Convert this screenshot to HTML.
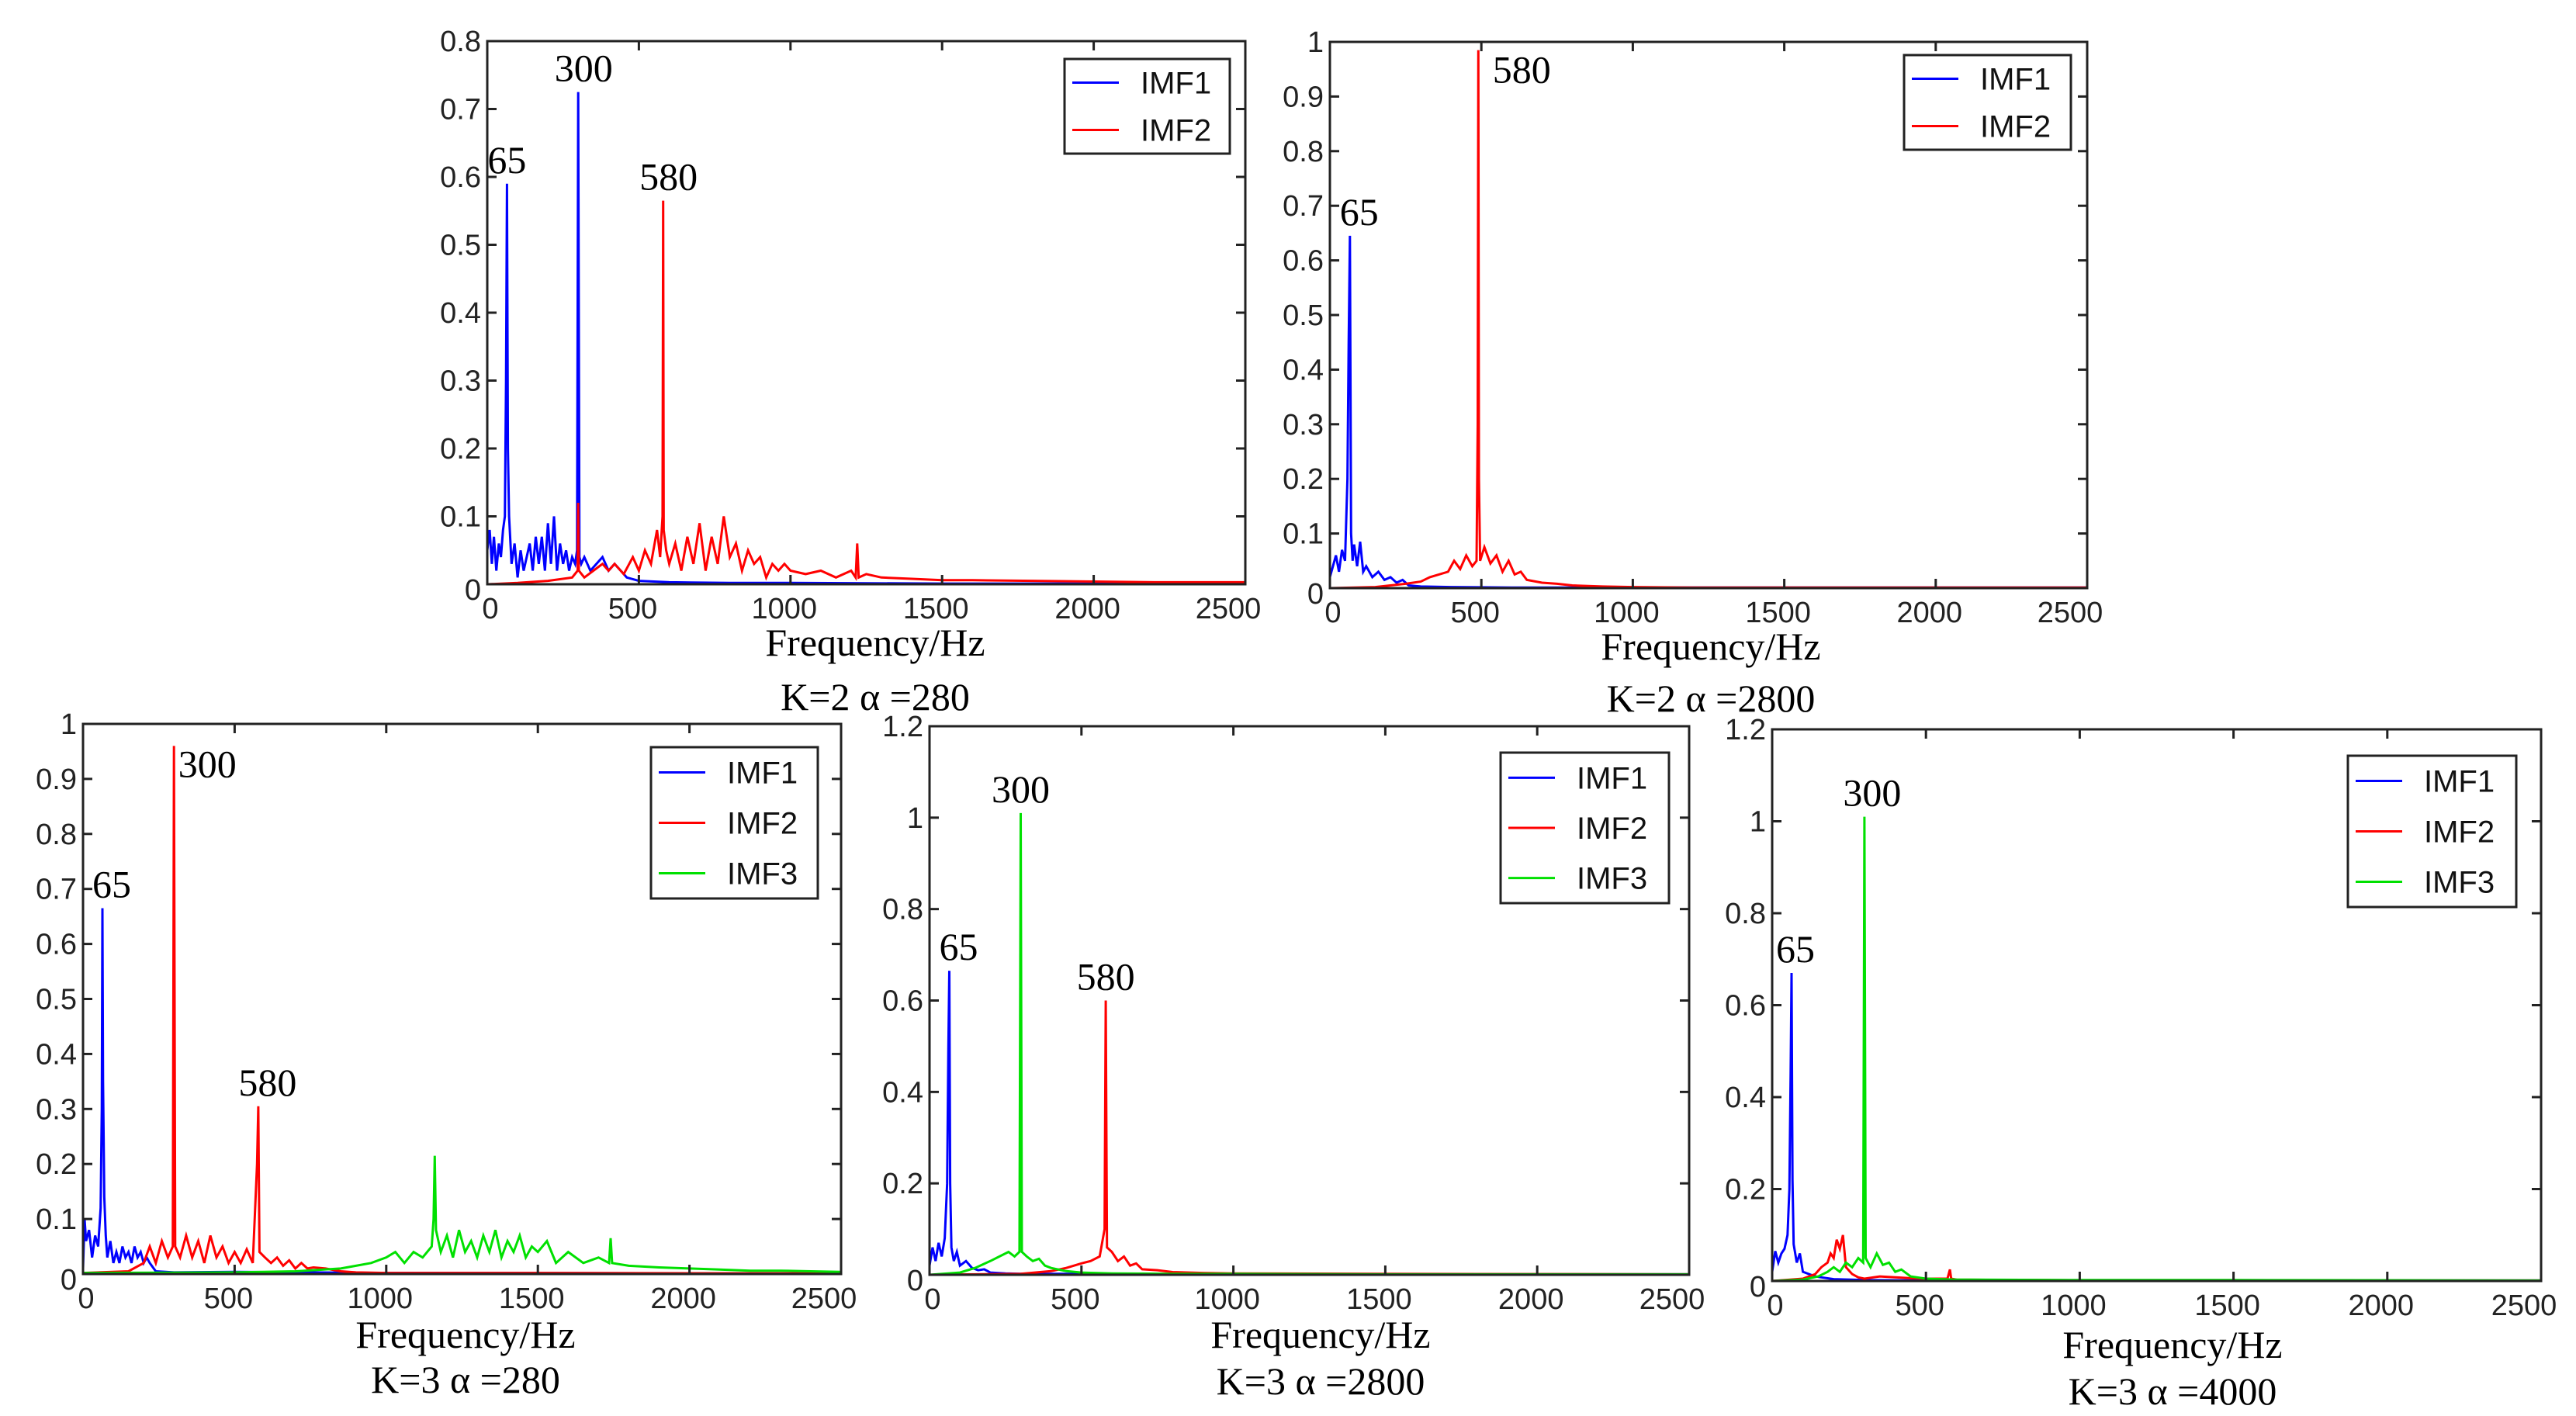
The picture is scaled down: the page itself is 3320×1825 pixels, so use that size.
<!DOCTYPE html>
<html><head><meta charset="utf-8">
<style>
html,body{margin:0;padding:0;background:#fff;}
svg{display:block;}
.tk{font-family:"Liberation Sans",sans-serif;font-size:38px;fill:#222;}
.an{font-family:"Liberation Serif",serif;font-size:50px;fill:#000;}
.cap{font-family:"Liberation Serif",serif;font-size:50px;fill:#000;}
.lg{font-family:"Liberation Sans",sans-serif;font-size:40px;fill:#111;}
</style></head>
<body>
<svg id="fig" width="3320" height="1825" viewBox="0 0 3320 1825" xmlns="http://www.w3.org/2000/svg"></svg>
<script>
// ---- data: frequencies (Hz) and amplitudes ----
const p1_imf1_f=[0,8,15,22,30,38,45,52,58,62,65,68,72,80,90,100,110,120,130,140,150,160,170,180,190,200,210,220,230,240,250,260,270,280,290,296,300,304,310,320,340,360,380,400,420,440,460,500,600,800,1000,1500,2000,2500];
const p1_imf1_a=[0.05,0.08,0.03,0.07,0.02,0.06,0.04,0.08,0.1,0.3,0.59,0.2,0.1,0.03,0.06,0.01,0.05,0.02,0.04,0.06,0.02,0.07,0.03,0.07,0.02,0.09,0.03,0.1,0.02,0.06,0.03,0.05,0.02,0.04,0.03,0.05,0.725,0.04,0.03,0.04,0.02,0.03,0.04,0.02,0.03,0.02,0.01,0.005,0.003,0.002,0.002,0.001,0.001,0.001];
const p1_imf2_f=[0,100,200,280,298,300,302,320,350,380,400,420,450,480,500,520,540,560,570,578,580,582,590,600,620,640,660,680,700,720,740,760,780,800,820,840,860,880,900,920,940,960,980,1000,1050,1100,1150,1200,1215,1220,1225,1250,1300,1400,1500,1600,1800,2000,2200,2500];
const p1_imf2_a=[0,0.002,0.005,0.01,0.02,0.12,0.02,0.01,0.02,0.03,0.02,0.03,0.015,0.04,0.02,0.05,0.03,0.08,0.04,0.1,0.565,0.08,0.05,0.03,0.06,0.02,0.07,0.03,0.09,0.02,0.07,0.03,0.1,0.04,0.06,0.02,0.05,0.03,0.04,0.01,0.03,0.02,0.03,0.02,0.015,0.02,0.01,0.02,0.01,0.06,0.01,0.015,0.01,0.008,0.006,0.006,0.005,0.004,0.003,0.003];
const p2_imf1_f=[0,10,20,30,40,50,58,62,66,70,75,80,90,100,110,120,140,160,180,200,220,240,260,300,400,600,1000,2500];
const p2_imf1_a=[0.02,0.04,0.06,0.03,0.07,0.05,0.2,0.45,0.645,0.1,0.05,0.08,0.04,0.085,0.03,0.04,0.02,0.03,0.015,0.02,0.01,0.015,0.005,0.003,0.002,0.001,0.001,0.001];
const p2_imf2_f=[0,150,200,250,300,330,360,390,410,430,450,470,484,488,490,492,496,510,530,550,570,590,610,630,650,700,750,800,900,1000,1200,1500,2500];
const p2_imf2_a=[0,0.002,0.005,0.008,0.012,0.02,0.025,0.03,0.05,0.035,0.06,0.04,0.05,0.3,0.985,0.2,0.05,0.075,0.045,0.06,0.03,0.05,0.025,0.03,0.015,0.01,0.008,0.005,0.003,0.002,0.001,0.001,0.001];
const p3_imf1_f=[0,5,10,20,30,40,50,58,62,64,66,70,75,80,90,100,110,120,130,140,150,160,170,180,190,200,210,220,240,300,500,1000,2500];
const p3_imf1_a=[0.01,0.1,0.06,0.08,0.03,0.07,0.05,0.12,0.3,0.665,0.35,0.14,0.07,0.03,0.06,0.02,0.04,0.02,0.05,0.03,0.04,0.02,0.05,0.03,0.04,0.02,0.03,0.02,0.005,0.003,0.004,0.002,0.001];
const p3_imf2_f=[0,150,200,220,240,260,280,296,300,304,320,340,360,380,400,420,440,460,480,500,520,540,560,574,578,582,600,620,640,660,680,700,720,740,760,800,850,900,1000,1500,2500];
const p3_imf2_a=[0.002,0.005,0.02,0.05,0.02,0.06,0.03,0.05,0.96,0.05,0.03,0.07,0.03,0.06,0.02,0.07,0.03,0.05,0.02,0.04,0.02,0.045,0.02,0.2,0.305,0.04,0.03,0.02,0.03,0.015,0.025,0.01,0.02,0.01,0.012,0.01,0.005,0.003,0.002,0.002,0.001];
const p3_imf3_f=[0,500,700,850,900,950,1000,1030,1060,1090,1120,1150,1156,1160,1164,1180,1200,1220,1240,1260,1280,1300,1320,1340,1360,1380,1400,1420,1440,1460,1480,1500,1530,1560,1600,1650,1700,1735,1740,1745,1800,1900,2000,2100,2200,2300,2400,2500];
const p3_imf3_a=[0.002,0.003,0.005,0.01,0.015,0.02,0.03,0.04,0.02,0.04,0.03,0.05,0.1,0.215,0.08,0.04,0.07,0.03,0.08,0.04,0.06,0.03,0.07,0.04,0.08,0.03,0.06,0.04,0.07,0.03,0.05,0.04,0.06,0.02,0.04,0.02,0.03,0.02,0.065,0.02,0.015,0.012,0.01,0.008,0.006,0.006,0.005,0.004];
const p4_imf1_f=[0,10,20,30,40,50,58,62,65,68,72,80,90,100,120,140,160,180,200,250,300,500,1000,2500];
const p4_imf1_a=[0.02,0.06,0.03,0.07,0.04,0.08,0.2,0.5,0.665,0.2,0.06,0.03,0.05,0.02,0.03,0.015,0.01,0.012,0.005,0.003,0.002,0.002,0.001,0.001];
const p4_imf2_f=[0,300,400,450,500,530,560,576,580,584,600,620,640,660,680,700,750,800,900,1000,1500,2500];
const p4_imf2_a=[0,0.002,0.008,0.015,0.025,0.03,0.04,0.1,0.6,0.06,0.05,0.03,0.04,0.02,0.025,0.012,0.01,0.006,0.004,0.003,0.002,0.001];
const p4_imf3_f=[0,100,150,200,230,260,280,296,300,304,320,340,360,380,400,450,500,600,800,1000,1500,2500];
const p4_imf3_a=[0,0.005,0.015,0.03,0.04,0.05,0.04,0.05,1.01,0.05,0.04,0.03,0.035,0.02,0.015,0.008,0.005,0.003,0.002,0.002,0.001,0.001];
const p5_imf1_f=[0,10,20,30,40,50,56,60,63,66,70,80,90,100,120,140,160,200,300,500,1000,2500];
const p5_imf1_a=[0.02,0.065,0.04,0.06,0.07,0.1,0.2,0.45,0.67,0.22,0.08,0.04,0.06,0.02,0.015,0.01,0.008,0.004,0.002,0.001,0.001,0.001];
const p5_imf2_f=[0,100,140,160,180,190,200,210,220,230,240,260,280,300,350,400,450,500,570,578,582,600,800,1500,2500];
const p5_imf2_a=[0,0.005,0.015,0.03,0.04,0.06,0.05,0.09,0.07,0.1,0.03,0.015,0.008,0.005,0.01,0.008,0.006,0.005,0.005,0.025,0.005,0.003,0.002,0.001,0.001];
const p5_imf3_f=[0,100,150,180,200,220,240,260,280,296,300,304,320,340,360,380,400,420,450,500,600,1000,1500,2500];
const p5_imf3_a=[0,0.003,0.01,0.02,0.03,0.02,0.04,0.03,0.05,0.04,1.01,0.05,0.03,0.06,0.035,0.04,0.02,0.025,0.01,0.005,0.003,0.002,0.002,0.001];
const xTickValues=[0,500,1000,1500,2000,2500];
const yTicks08=[0,0.1,0.2,0.3,0.4,0.5,0.6,0.7,0.8];
const yTicks10=[0,0.1,0.2,0.3,0.4,0.5,0.6,0.7,0.8,0.9,1];
const yTicks12=[0,0.2,0.4,0.6,0.8,1,1.2];
const seriesNames=["IMF1","IMF2","IMF3"];
const captions=["K=2  \u03b1 =280","K=2  \u03b1 =2800","K=3  \u03b1 =280","K=3  \u03b1 =2800","K=3  \u03b1 =4000"];
// peak annotations: [label, freq, amp]
const p1_ann=[["65",65,0.59],["300",300,0.725],["580",580,0.565]];
const p2_ann=[["65",66,0.645],["580",490,0.985]];
const p3_ann=[["65",64,0.665],["300",300,0.96],["580",578,0.305]];
const p4_ann=[["65",65,0.665],["300",300,1.01],["580",580,0.6]];
const p5_ann=[["65",63,0.67],["300",300,1.01]];

const COLORS=["#0000ff","#ff0000","#00e000"];
const NS="http://www.w3.org/2000/svg";
const svg=document.getElementById('fig');
function mk(tag,attrs,parent){const e=document.createElementNS(NS,tag);for(const k in attrs)e.setAttribute(k,attrs[k]);(parent||svg).appendChild(e);return e;}

const panels=[
 {x0:628,x1:1605,y0:53,y1:753,ymax:0.8,yt:yTicks08,series:[[p1_imf1_f,p1_imf1_a],[p1_imf2_f,p1_imf2_a]],ann:p1_ann,annOff:[[0,-14],[7,-14],[7,-14]],leg:[1372,76,1585,198],cap:captions[0],fx:1128,fy:845,cy:915},
 {x0:1714,x1:2690,y0:54,y1:758,ymax:1,yt:yTicks10,series:[[p2_imf1_f,p2_imf1_a],[p2_imf2_f,p2_imf2_a]],ann:p2_ann,annOff:[[12,-14],[56,42]],leg:[2454,71,2669,193],cap:captions[1],fx:2205,fy:850,cy:917},
 {x0:107,x1:1084,y0:933,y1:1642,ymax:1,yt:yTicks10,series:[[p3_imf1_f,p3_imf1_a],[p3_imf2_f,p3_imf2_a],[p3_imf3_f,p3_imf3_a]],ann:p3_ann,annOff:[[12,-14],[43,40],[12,-14]],leg:[839,963,1054,1158],cap:captions[2],fx:600,fy:1737,cy:1795},
 {x0:1198,x1:2177,y0:936,y1:1643,ymax:1.2,yt:yTicks12,series:[[p4_imf1_f,p4_imf1_a],[p4_imf2_f,p4_imf2_a],[p4_imf3_f,p4_imf3_a]],ann:p4_ann,annOff:[[12,-14],[0,-14],[0,-14]],leg:[1934,970,2151,1164],cap:captions[3],fx:1702,fy:1737,cy:1797},
 {x0:2284,x1:3275,y0:940,y1:1651,ymax:1.2,yt:yTicks12,series:[[p5_imf1_f,p5_imf1_a],[p5_imf2_f,p5_imf2_a],[p5_imf3_f,p5_imf3_a]],ann:p5_ann,annOff:[[5,-14],[10,-14]],leg:[3026,974,3243,1169],cap:captions[4],fx:2800,fy:1750,cy:1810}
];

panels.forEach((p,pi)=>{
  const g=mk('g',{});
  
  
  const X=f=>p.x0+(p.x1-p.x0)*f/2500;
  const Y=a=>p.y1-(p.y1-p.y0)*a/p.ymax;
  // series
  p.series.forEach((s,si)=>{
    const n=Math.min(s[0].length,s[1].length);
    const pts=[];
    for(let i=0;i<n;i++)pts.push(X(s[0][i]).toFixed(1)+','+Y(s[1][i]).toFixed(1));
    const pl=mk('polyline',{points:pts.join(' '),fill:'none',stroke:COLORS[si],'stroke-width':3,'stroke-linejoin':'miter'},g);
    
    
  });
  // axes box
  const box=mk('rect',{x:p.x0,y:p.y0,width:p.x1-p.x0,height:p.y1-p.y0,fill:'none',stroke:'#222','stroke-width':3},g);
  
  
  // x ticks
  xTickValues.forEach(v=>{
    const x=X(v);
    mk('line',{x1:x,y1:p.y1,x2:x,y2:p.y1-12,stroke:'#222','stroke-width':3},g);
    mk('line',{x1:x,y1:p.y0,x2:x,y2:p.y0+12,stroke:'#222','stroke-width':3},g);
    const t=mk('text',{x:x-(v===2500?22:(v===0?-4:8)),y:p.y1+44,'text-anchor':'middle',class:'tk'},g);
    t.textContent=v;
    
    
  });
  // y ticks
  p.yt.forEach(v=>{
    const y=Y(v);
    mk('line',{x1:p.x0,y1:y,x2:p.x0+12,y2:y,stroke:'#222','stroke-width':3},g);
    mk('line',{x1:p.x1,y1:y,x2:p.x1-12,y2:y,stroke:'#222','stroke-width':3},g);
    const t=mk('text',{x:p.x0-8,y:y+(v===0?20:13),'text-anchor':'end',class:'tk'},g);
    t.textContent=String(v);
    
    
  });
  // annotations
  p.ann.forEach((a,ai)=>{
    const off=p.annOff[ai]||[0,-14];
    const t=mk('text',{x:X(a[1])+off[0],y:Y(a[2])+off[1],'text-anchor':'middle',class:'an'},g);
    t.textContent=a[0];
    
    
  });
  // legend
  const [lx0,ly0,lx1,ly1]=p.leg;
  const lg=mk('g',{},g);
  
  
  mk('rect',{x:lx0,y:ly0,width:lx1-lx0,height:ly1-ly0,fill:'#fff',stroke:'#222','stroke-width':3},lg);
  const n=p.series.length, rowH=(ly1-ly0)/n;
  for(let i=0;i<n;i++){
    const cy=ly0+rowH*(i+0.5);
    const e=mk('g',{},lg);
    
    
    mk('line',{x1:lx0+10,y1:cy,x2:lx0+70,y2:cy,stroke:COLORS[i],'stroke-width':3},e);
    const t=mk('text',{x:lx0+98,y:cy+14,class:'lg'},e);
    t.textContent=seriesNames[i];
  }
  // axis title + caption
  const xt=mk('text',{x:p.fx,y:p.fy,'text-anchor':'middle',class:'cap'},g);
  xt.textContent='Frequency/Hz';
  
  
  const ct=mk('text',{x:p.fx,y:p.cy,'text-anchor':'middle',class:'cap'},g);
  ct.textContent=p.cap;
  
  
});
</script>
</body></html>
